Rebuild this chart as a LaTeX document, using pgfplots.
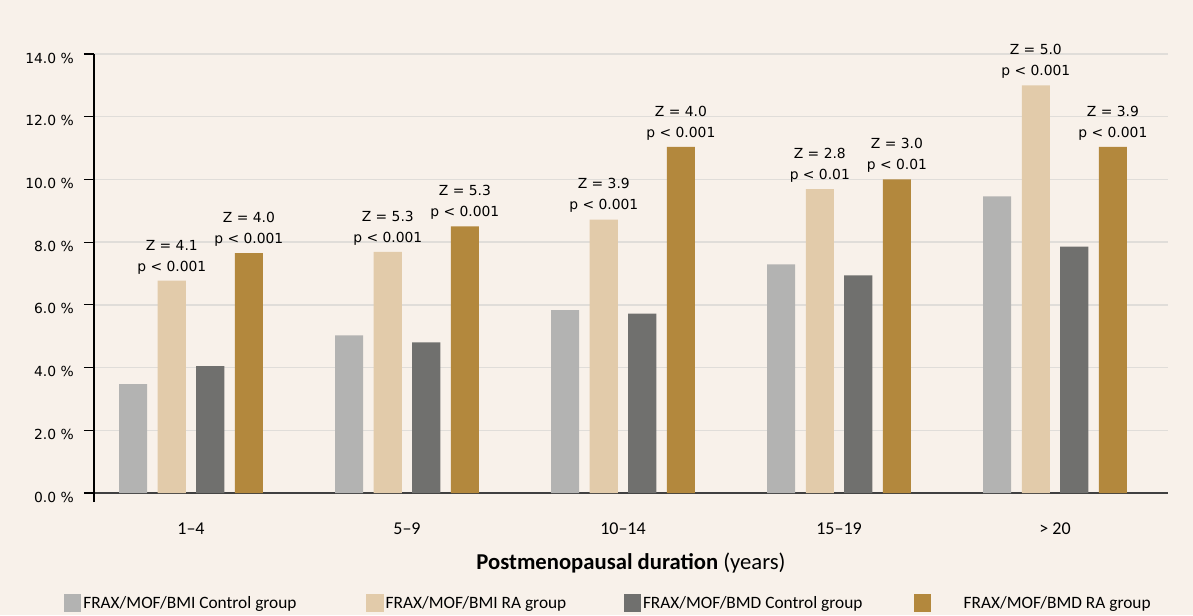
\documentclass[border=0pt]{standalone}
\usepackage{fontspec}
\setmainfont{Carlito}
\newfontfamily\dejavu{DejaVu Sans}
\usepackage{pgfplots}
\pgfplotsset{compat=1.18}
\definecolor{bg}{RGB}{248,241,234}
\definecolor{cgray}{RGB}{179,179,178}
\definecolor{ctan}{RGB}{226,203,170}
\definecolor{cdark}{RGB}{112,112,110}
\definecolor{cgold}{RGB}{179,136,61}
\definecolor{cgrid}{RGB}{224,221,217}
\definecolor{cbase}{RGB}{64,64,64}
\begin{document}
\begin{tikzpicture}
\useasboundingbox (-70.5pt,-91.5pt) rectangle (824.25pt,369.75pt);
\fill[bg] (-70.5pt,-91.5pt) rectangle (824.25pt,369.75pt);
\begin{axis}[
  at={(0pt,0pt)}, anchor=south west,
  scale only axis, width=805.5pt, height=329.25pt,
  xmin=-0.449, xmax=4.523, ymin=0, ymax=14,
  axis x line*=bottom, axis y line*=left,
  x axis line style={-, cbase, line width=1.4pt},
  y axis line style={-, black, line width=1.1pt, shorten <=-6.75pt},
  xtick={0,1,2,3,4},
  xticklabels={1--4, 5--9, 10--14, 15--19, > 20},
  x tick style={draw=none},
  xticklabel style={font=\fontsize{13.5}{16}\selectfont, anchor=base, yshift=-23.5pt},
  ytick={0,2,4,6,8,10,12,14},
  yticklabels={0.0 \%, 2.0 \%, 4.0 \%, 6.0 \%, 8.0 \%, 10.0 \%, 12.0 \%, 14.0 \%},
  y tick style={black, line width=0.9pt},
  tick align=outside, major tick length=7.5pt,
  yticklabel style={font=\dejavu\fontsize{10.4}{12}\selectfont, anchor=east, inner sep=0pt, xshift=-7.5pt, yshift=-3pt},
  ymajorgrids, grid style={cgrid, line width=1pt},
  xlabel={\textbf{Postmenopausal duration} (years)},
  x label style={font=\fontsize{17}{20}\selectfont, at={(axis description cs:0.5,-0.1595)}, anchor=center},
  legend columns=4,
  legend style={draw=none, fill=none, inner sep=0pt, outer sep=0pt,
    at={(-0.02793,-0.25057)}, anchor=west,
    font=\fontsize{13}{15}\selectfont,
    nodes={inner sep=0pt},
    /tikz/every odd column/.append style={column sep=1.5pt},
    /tikz/every even column/.append style={column sep=0pt}},
  point meta=explicit symbolic,
  nodes near coords align={vertical},
]
\addplot[ybar, bar width=0.13, bar shift=-0.268, fill=cgray, draw=none,
  legend image code/.code={\fill[cgray] (0pt,-6.5pt) rectangle (13pt,6.5pt);}]
  coordinates {(0,3.47) (1,5.03) (2,5.83) (3,7.29) (4,9.46)};
\addlegendentry{\makebox[212.25pt][l]{FRAX/MOF/BMI Control group}}
\addplot[ybar, bar width=0.13, bar shift=-0.089, fill=ctan, draw=none,
  nodes near coords,
  every node near coord/.append style={font=\dejavu\fontsize{10.4}{15.75}\selectfont, align=center, text=black, yshift=1.5pt, xshift=-14.4pt},
  legend image code/.code={\fill[ctan] (0pt,-6.5pt) rectangle (13pt,6.5pt);}]
  coordinates {(0,6.77) [{Z = 4.1\\p < 0.001}] (1,7.69) [{Z = 5.3\\p < 0.001}] (2,8.72) [{Z = 3.9\\p < 0.001}] (3,9.69) [{Z = 2.8\\p < 0.01}] (4,13.0) [{Z = 5.0\\p < 0.001}]};
\addlegendentry{\makebox[178.5pt][l]{FRAX/MOF/BMI RA group}}
\addplot[ybar, bar width=0.13, bar shift=0.089, fill=cdark, draw=none,
  legend image code/.code={\fill[cdark] (0pt,-6.5pt) rectangle (13pt,6.5pt);}]
  coordinates {(0,4.05) (1,4.80) (2,5.72) (3,6.94) (4,7.86)};
\addlegendentry{\makebox[203pt][l]{FRAX/MOF/BMD Control group}}
\addplot[ybar, bar width=0.13, bar shift=0.268, fill=cgold, draw=none,
  nodes near coords,
  every node near coord/.append style={font=\dejavu\fontsize{10.4}{15.75}\selectfont, align=center, text=black, yshift=1.5pt, xshift=43.4pt},
  legend image code/.code={\fill[cgold] (0pt,-6.5pt) rectangle (13pt,6.5pt);}]
  coordinates {(0,7.65) [{Z = 4.0\\p < 0.001}] (1,8.50) [{Z = 5.3\\p < 0.001}] (2,11.04) [{Z = 4.0\\p < 0.001}] (3,10.0) [{Z = 3.0\\p < 0.01}] (4,11.04) [{Z = 3.9\\p < 0.001}]};
\addlegendentry{\hspace*{23pt}FRAX/MOF/BMD RA group}
\end{axis}
\end{tikzpicture}
\end{document}
